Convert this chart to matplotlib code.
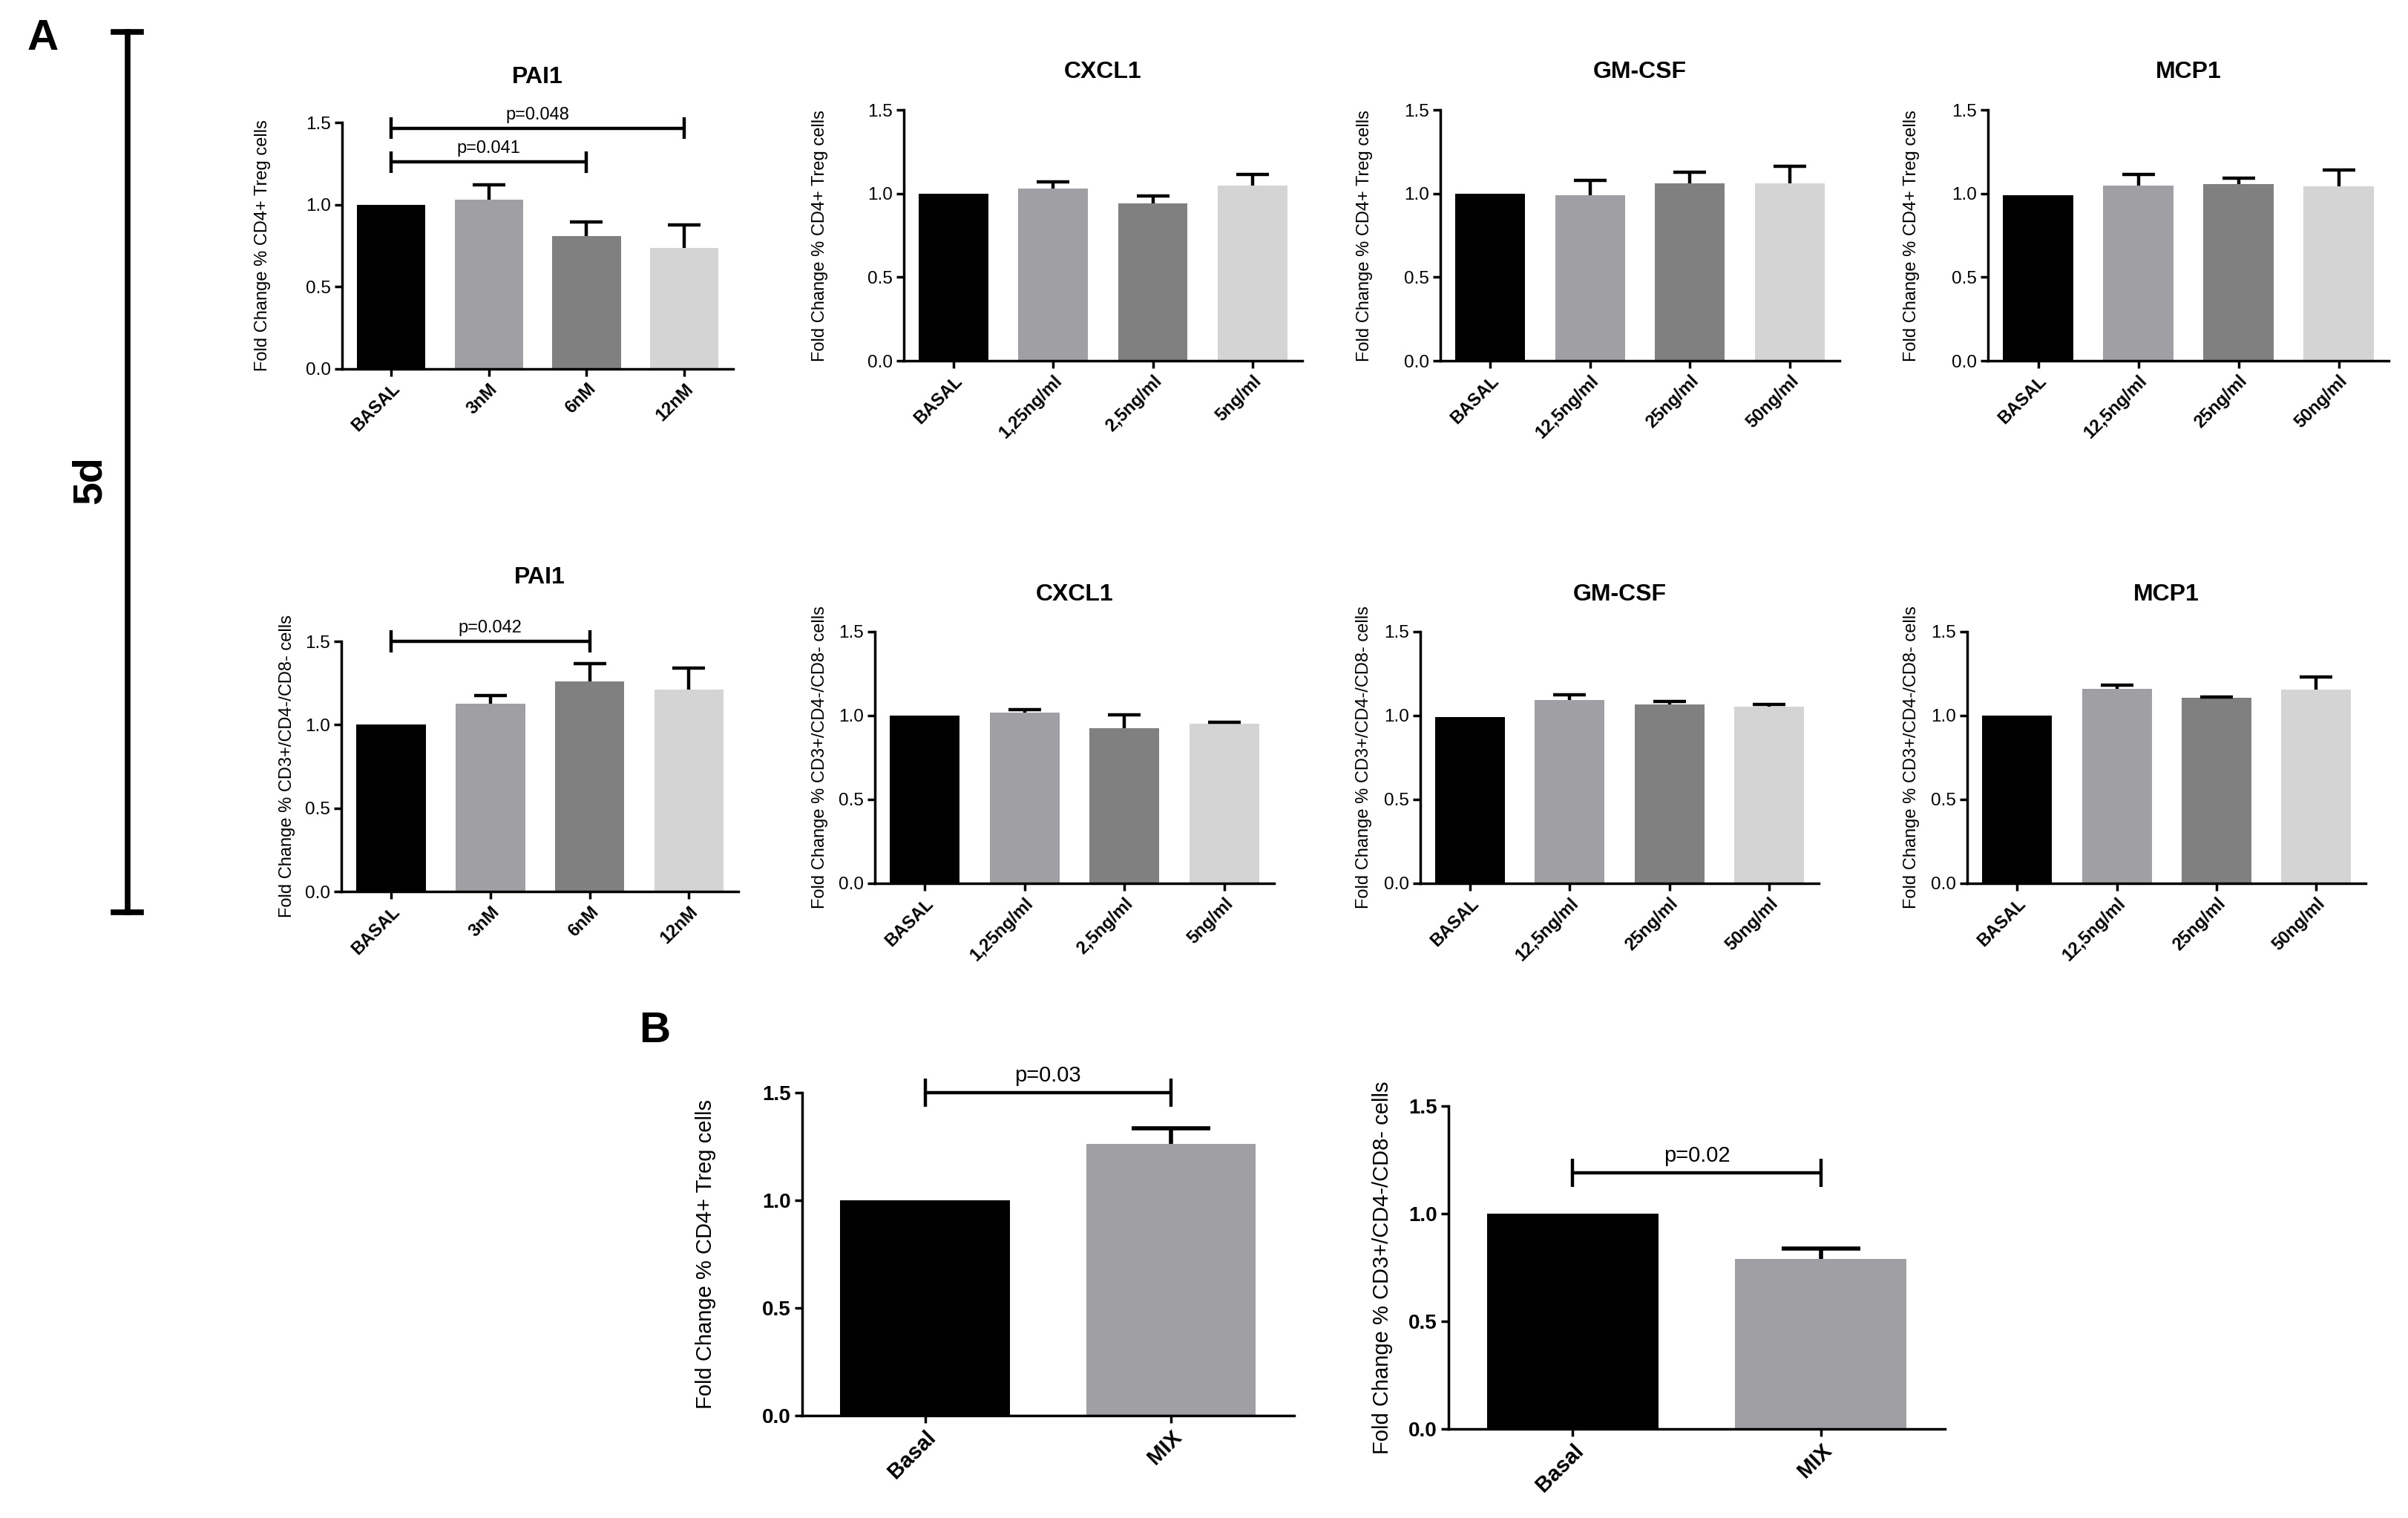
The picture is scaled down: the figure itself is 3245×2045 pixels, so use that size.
import matplotlib
matplotlib.use("Agg")
import matplotlib.pyplot as plt
from matplotlib import font_manager

# ---- data ----
cats_pai1 = ["BASAL", "3nM", "6nM", "12nM"]
cats_cxcl1 = ["BASAL", "1,25ng/ml", "2,5ng/ml", "5ng/ml"]
cats_gmcsf = ["BASAL", "12,5ng/ml", "25ng/ml", "50ng/ml"]
cats_mcp1 = ["BASAL", "12,5ng/ml", "25ng/ml", "50ng/ml"]
cats_mix = ["Basal", "MIX"]

treg_pai1 = [1.0, 1.03, 0.81, 0.735]
treg_pai1_err = [0, 0.09, 0.083, 0.14]
treg_cxcl1 = [1.0, 1.032, 0.942, 1.046]
treg_cxcl1_err = [0, 0.04, 0.045, 0.07]
treg_gmcsf = [1.0, 0.99, 1.062, 1.061]
treg_gmcsf_err = [0, 0.088, 0.066, 0.104]
treg_mcp1 = [0.99, 1.046, 1.056, 1.042]
treg_mcp1_err = [0, 0.07, 0.036, 0.098]

cd3_pai1 = [1.0, 1.127, 1.259, 1.212]
cd3_pai1_err = [0, 0.048, 0.108, 0.13]
cd3_cxcl1 = [1.0, 1.019, 0.925, 0.953]
cd3_cxcl1_err = [0, 0.016, 0.077, 0.008]
cd3_gmcsf = [0.99, 1.094, 1.068, 1.051]
cd3_gmcsf_err = [0, 0.03, 0.016, 0.017]
cd3_mcp1 = [1.0, 1.16, 1.106, 1.155]
cd3_mcp1_err = [0, 0.023, 0.006, 0.074]

mix_treg = [1.0, 1.263]
mix_treg_err = [0, 0.071]
mix_cd3 = [1.0, 0.788]
mix_cd3_err = [0, 0.05]

# significance brackets: (from, to, height, label)
sig_treg_pai1 = [(0, 3, 1.465, "p=0.048"), (0, 2, 1.26, "p=0.041")]
sig_cd3_pai1 = [(0, 2, 1.5, "p=0.042")]
sig_mix_treg = [(0, 1, 1.5, "p=0.03")]
sig_mix_cd3 = [(0, 1, 1.19, "p=0.02")]

ylab_treg = "Fold Change % CD4+ Treg cells"
ylab_cd3 = "Fold Change % CD3+/CD4-/CD8- cells"

bar_colors = ["black", "#a0a0a4", "#808080", "#d4d4d4"]

names = {f.name for f in font_manager.fontManager.ttflist}
base_font = "Liberation Sans" if "Liberation Sans" in names else "DejaVu Sans"
narrow_font = "Liberation Sans Narrow" if "Liberation Sans Narrow" in names else base_font
plt.rcParams["font.family"] = [base_font, "DejaVu Sans"]

fig = plt.figure(figsize=(32.45, 20.45), dpi=100)


def bar_panel(rect, cats, vals, errs, ylab, ylab_x, title=None, title_y=None,
              sigs=(), tick_fs=17.5, xt_fs=17, ylab_fs=17, ylab_font=None,
              p_fs=17, ytick_bold=False, bar_w=0.7, capsize=16, elw=3.2):
    ax = fig.add_axes(rect)
    x = list(range(len(cats)))
    cols = bar_colors[:len(cats)]
    ax.bar(x, vals, width=bar_w, color=cols, edgecolor="none", zorder=2)
    for i in range(len(cats)):
        if errs[i] > 0:
            eb = ax.errorbar(x[i], vals[i], yerr=[[0], [errs[i]]], fmt="none",
                             ecolor="black", elinewidth=elw, capsize=capsize,
                             capthick=elw, zorder=3)
            # keep only the upper cap (Prism style "T")
            eb[1][0].set_visible(False)
    ax.set_xlim(-0.5, len(cats) - 0.5)
    ax.set_ylim(0, 1.5)
    ax.set_yticks([0, 0.5, 1.0, 1.5])
    ax.set_yticklabels(["0.0", "0.5", "1.0", "1.5"], fontsize=tick_fs,
                       fontweight="bold" if ytick_bold else "normal")
    ax.set_xticks(x)
    ax.set_xticklabels(cats, rotation=45, ha="right", rotation_mode="anchor",
                       fontsize=xt_fs, fontweight="bold")
    for s in ["top", "right"]:
        ax.spines[s].set_visible(False)
    for s in ["left", "bottom"]:
        ax.spines[s].set_linewidth(2.5)
    ax.tick_params(axis="both", direction="out", length=7, width=2.5, pad=4)
    ax.text(ylab_x, 0.5, ylab, rotation=90, ha="center", va="center",
            transform=ax.transAxes, fontsize=ylab_fs,
            family=[ylab_font or narrow_font, "DejaVu Sans"])
    if title:
        fig.text(rect[0] + rect[2] / 2, title_y, title, ha="center",
                 va="center", fontsize=23, fontweight="bold")
    for x0, x1, y, lab in sigs:
        ax.plot([x0, x1], [y, y], color="black", lw=3.2, clip_on=False,
                solid_capstyle="butt")
        for xx in (x0, x1):
            ax.plot([xx, xx], [y - 0.065, y + 0.065], color="black", lw=3.2,
                    clip_on=False, solid_capstyle="butt")
        ax.text((x0 + x1) / 2, y + 0.03, lab, ha="center", va="bottom",
                fontsize=p_fs, clip_on=False)
    return ax


# row 1: CD4+ Treg
bar_panel([0.1421, 0.7570, 0.1624, 0.1623], cats_pai1, treg_pai1, treg_pai1_err,
          ylab_treg, -0.203, "PAI1", 0.949, sig_treg_pai1)
bar_panel([0.3753, 0.7623, 0.1655, 0.1653], cats_cxcl1, treg_cxcl1, treg_cxcl1_err,
          ylab_treg, -0.21, "CXCL1", 0.9526)
bar_panel([0.5982, 0.7623, 0.1658, 0.1653], cats_gmcsf, treg_gmcsf, treg_gmcsf_err,
          ylab_treg, -0.19, "GM-CSF", 0.9526)
bar_panel([0.8256, 0.7623, 0.1664, 0.1653], cats_mcp1, treg_mcp1, treg_mcp1_err,
          ylab_treg, -0.19, "MCP1", 0.9526)

# row 2: CD3+/CD4-/CD8-
bar_panel([0.1418, 0.4127, 0.1649, 0.1648], cats_pai1, cd3_pai1, cd3_pai1_err,
          ylab_cd3, -0.136, "PAI1", 0.6196, sig_cd3_pai1)
bar_panel([0.3633, 0.4181, 0.1658, 0.1658], cats_cxcl1, cd3_cxcl1, cd3_cxcl1_err,
          ylab_cd3, -0.138, "CXCL1", 0.6083)
bar_panel([0.5898, 0.4181, 0.1655, 0.1658], cats_gmcsf, cd3_gmcsf, cd3_gmcsf_err,
          ylab_cd3, -0.141, "GM-CSF", 0.6083)
bar_panel([0.8170, 0.4181, 0.1655, 0.1658], cats_mcp1, cd3_mcp1, cd3_mcp1_err,
          ylab_cd3, -0.14, "MCP1", 0.6083)

# panel B
bar_panel([0.3331, 0.0675, 0.2043, 0.2127], cats_mix, mix_treg, mix_treg_err,
          ylab_treg, -0.196, sigs=sig_mix_treg, tick_fs=20, xt_fs=21,
          ylab_fs=21, ylab_font=base_font, p_fs=21, ytick_bold=True,
          bar_w=0.69, capsize=38, elw=4)
bar_panel([0.6015, 0.0587, 0.2062, 0.2127], cats_mix, mix_cd3, mix_cd3_err,
          ylab_cd3, -0.133, sigs=sig_mix_cd3, tick_fs=20, xt_fs=21,
          ylab_fs=21, ylab_font=base_font, p_fs=21, ytick_bold=True,
          bar_w=0.69, capsize=38, elw=4)

# panel letters and the 5d bracket
fig.text(0.0177, 0.9746, "A", ha="center", va="center", fontsize=42,
         fontweight="bold")
fig.text(0.272, 0.321, "B", ha="center", va="center", fontsize=42,
         fontweight="bold")
fig.text(0.0375, 0.684, "5d", ha="center", va="center", rotation=90,
         fontsize=40, fontweight="bold")
fig.add_artist(plt.Line2D([0.0530, 0.0530], [0.399, 0.979], color="black",
                          lw=5.5, transform=fig.transFigure))
for yy in (0.399, 0.979):
    fig.add_artist(plt.Line2D([0.0472, 0.0586], [yy, yy], color="black",
                              lw=5.5, transform=fig.transFigure))

fig.savefig("out.png", dpi=100, facecolor="white")
